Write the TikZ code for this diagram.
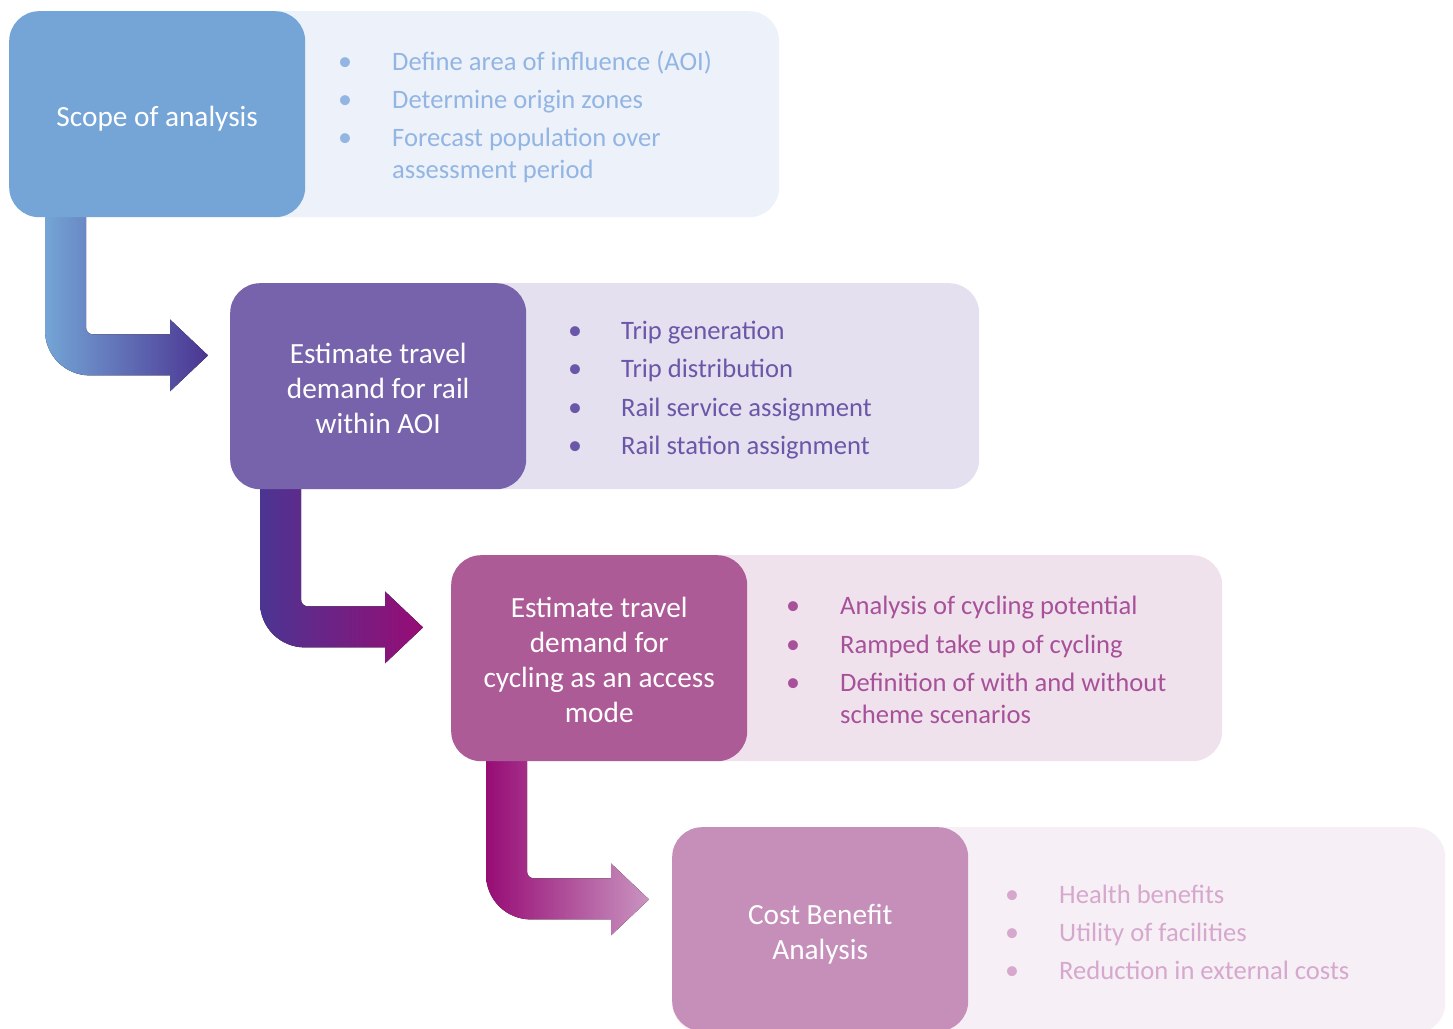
\documentclass[tikz,border=0pt]{standalone}
\usepackage{fontspec}
\setmainfont{Carlito}
\usetikzlibrary{calc}
\pgfdeclarelayer{panels}
\pgfdeclarelayer{arrows}
\pgfsetlayers{panels,arrows,main}
\definecolor{cAdark}{HTML}{74A5D6}
\definecolor{cAlight}{HTML}{EDF2FA}
\definecolor{cAtext}{HTML}{92B5E3}
\definecolor{cBdark}{HTML}{7763AB}
\definecolor{cBlight}{HTML}{E4E0F0}
\definecolor{cBtext}{HTML}{6B57A8}
\definecolor{cCdark}{HTML}{AD5B97}
\definecolor{cClight}{HTML}{F0E2EC}
\definecolor{cCtext}{HTML}{A7519A}
\definecolor{cDdark}{HTML}{C58FBA}
\definecolor{cDlight}{HTML}{F7EFF6}
\definecolor{cDtext}{HTML}{D6A8CD}
\definecolor{gA}{HTML}{74A5D6}
\definecolor{gB}{HTML}{4B3592}
\definecolor{gC}{HTML}{970C75}
\definecolor{gD}{HTML}{C994C0}
\newcommand\bendarrow[3]{%
  \fill[left color=#2, right color=#3, shift={#1}]
    (0,-8) -- (0,113) .. controls (0,138) and (20,158) .. (45,158)
    -- (125,158) -- (125,174) -- (163,138) -- (125,102) -- (125,117)
    -- (48,117) .. controls (44,117) and (41,114) .. (41,110) -- (41,-8) -- cycle;}
\begin{document}
\begin{tikzpicture}[x=1pt,y=-1pt,
  darkbox/.style={rounded corners=30pt, minimum width=296pt, minimum height=206pt,
    anchor=north west, inner sep=0pt},
  title/.style={text=white, align=center, font=\fontsize{29.3}{35}\selectfont, inner sep=0pt},
  lightbox/.style={rounded corners=30pt, anchor=north west, minimum height=206pt, inner sep=0pt},
  item/.style={anchor=mid west, font=\fontsize{26.6}{32}\selectfont, inner sep=0pt},
  dot/.style={anchor=mid, font=\fontsize{28}{32}\selectfont, inner sep=0pt}]
\useasboundingbox (0,0) rectangle (1453,1028);

% dark boxes
\node[darkbox, fill=cAdark] (b1) at (9,11) {};
\node[darkbox, fill=cBdark] (b2) at (230,283) {};
\node[darkbox, fill=cCdark] (b3) at (451,555) {};
\node[darkbox, fill=cDdark, minimum height=204pt] (b4) at (672,827) {};

% titles
\node[title] (h1) at ($(b1.center)+(0,4)$) {Scope of analysis};
\node[title] (h2) at ($(b2.center)+(0,2)$) {Estimate travel\\demand for rail\\within AOI};
\node[title] (h3) at ($(b3.center)+(0,2)$) {Estimate travel\\demand for\\cycling as an access\\mode};
\node[title] (h4) at ($(b4.center)+(0,5)$) {Cost Benefit\\Analysis};

% light panels
\begin{pgfonlayer}{panels}
\node[lightbox, fill=cAlight, minimum width=770pt] (l1) at (b1.north west) {};
\node[lightbox, fill=cBlight, minimum width=749pt] (l2) at (b2.north west) {};
\node[lightbox, fill=cClight, minimum width=771pt] (l3) at (b3.north west) {};
\node[lightbox, fill=cDlight, minimum width=773pt] (l4) at (b4.north west) {};
\end{pgfonlayer}

% arrows
\begin{pgfonlayer}{arrows}
\bendarrow{($(b1.south west)+(36,0)$)}{gA}{gB}
\bendarrow{($(b2.south west)+(30,0)$)}{gB}{gC}
\bendarrow{($(b3.south west)+(35,0)$)}{gC}{gD}
\end{pgfonlayer}

% panel 1 items
\begin{scope}[text=cAtext]
\node[dot] (d11) at (345,68) {\textbullet};
\node[dot] (d12) at (345,106) {\textbullet};
\node[dot] (d13) at (345,144) {\textbullet};
\node[item] (t11) at (392,68) {Define area of influence (AOI)};
\node[item] (t12) at (392,106) {Determine origin zones};
\node[item] (t13) at (392,144) {Forecast population over};
\node[item] (t14) at (392,176) {assessment period};
\end{scope}

% panel 2 items
\begin{scope}[text=cBtext]
\node[dot] (d21) at (575,337) {\textbullet};
\node[dot] (d22) at (575,375) {\textbullet};
\node[dot] (d23) at (575,414) {\textbullet};
\node[dot] (d24) at (575,452) {\textbullet};
\node[item] (t21) at (621,337) {Trip generation};
\node[item] (t22) at (621,375) {Trip distribution};
\node[item] (t23) at (621,414) {Rail service assignment};
\node[item] (t24) at (621,452) {Rail station assignment};
\end{scope}

% panel 3 items
\begin{scope}[text=cCtext]
\node[dot] (d31) at (793,612) {\textbullet};
\node[dot] (d32) at (793,651) {\textbullet};
\node[dot] (d33) at (793,689) {\textbullet};
\node[item] (t31) at (840,612) {Analysis of cycling potential};
\node[item] (t32) at (840,651) {Ramped take up of cycling};
\node[item] (t33) at (840,689) {Definition of with and without};
\node[item] (t34) at (840,721) {scheme scenarios};
\end{scope}

% panel 4 items
\begin{scope}[text=cDtext]
\node[dot] (d41) at (1012,901) {\textbullet};
\node[dot] (d42) at (1012,939) {\textbullet};
\node[dot] (d43) at (1012,977) {\textbullet};
\node[item] (t41) at (1059,901) {Health benefits};
\node[item] (t42) at (1059,939) {Utility of facilities};
\node[item] (t43) at (1059,977) {Reduction in external costs};
\end{scope}
\end{tikzpicture}
\end{document}
